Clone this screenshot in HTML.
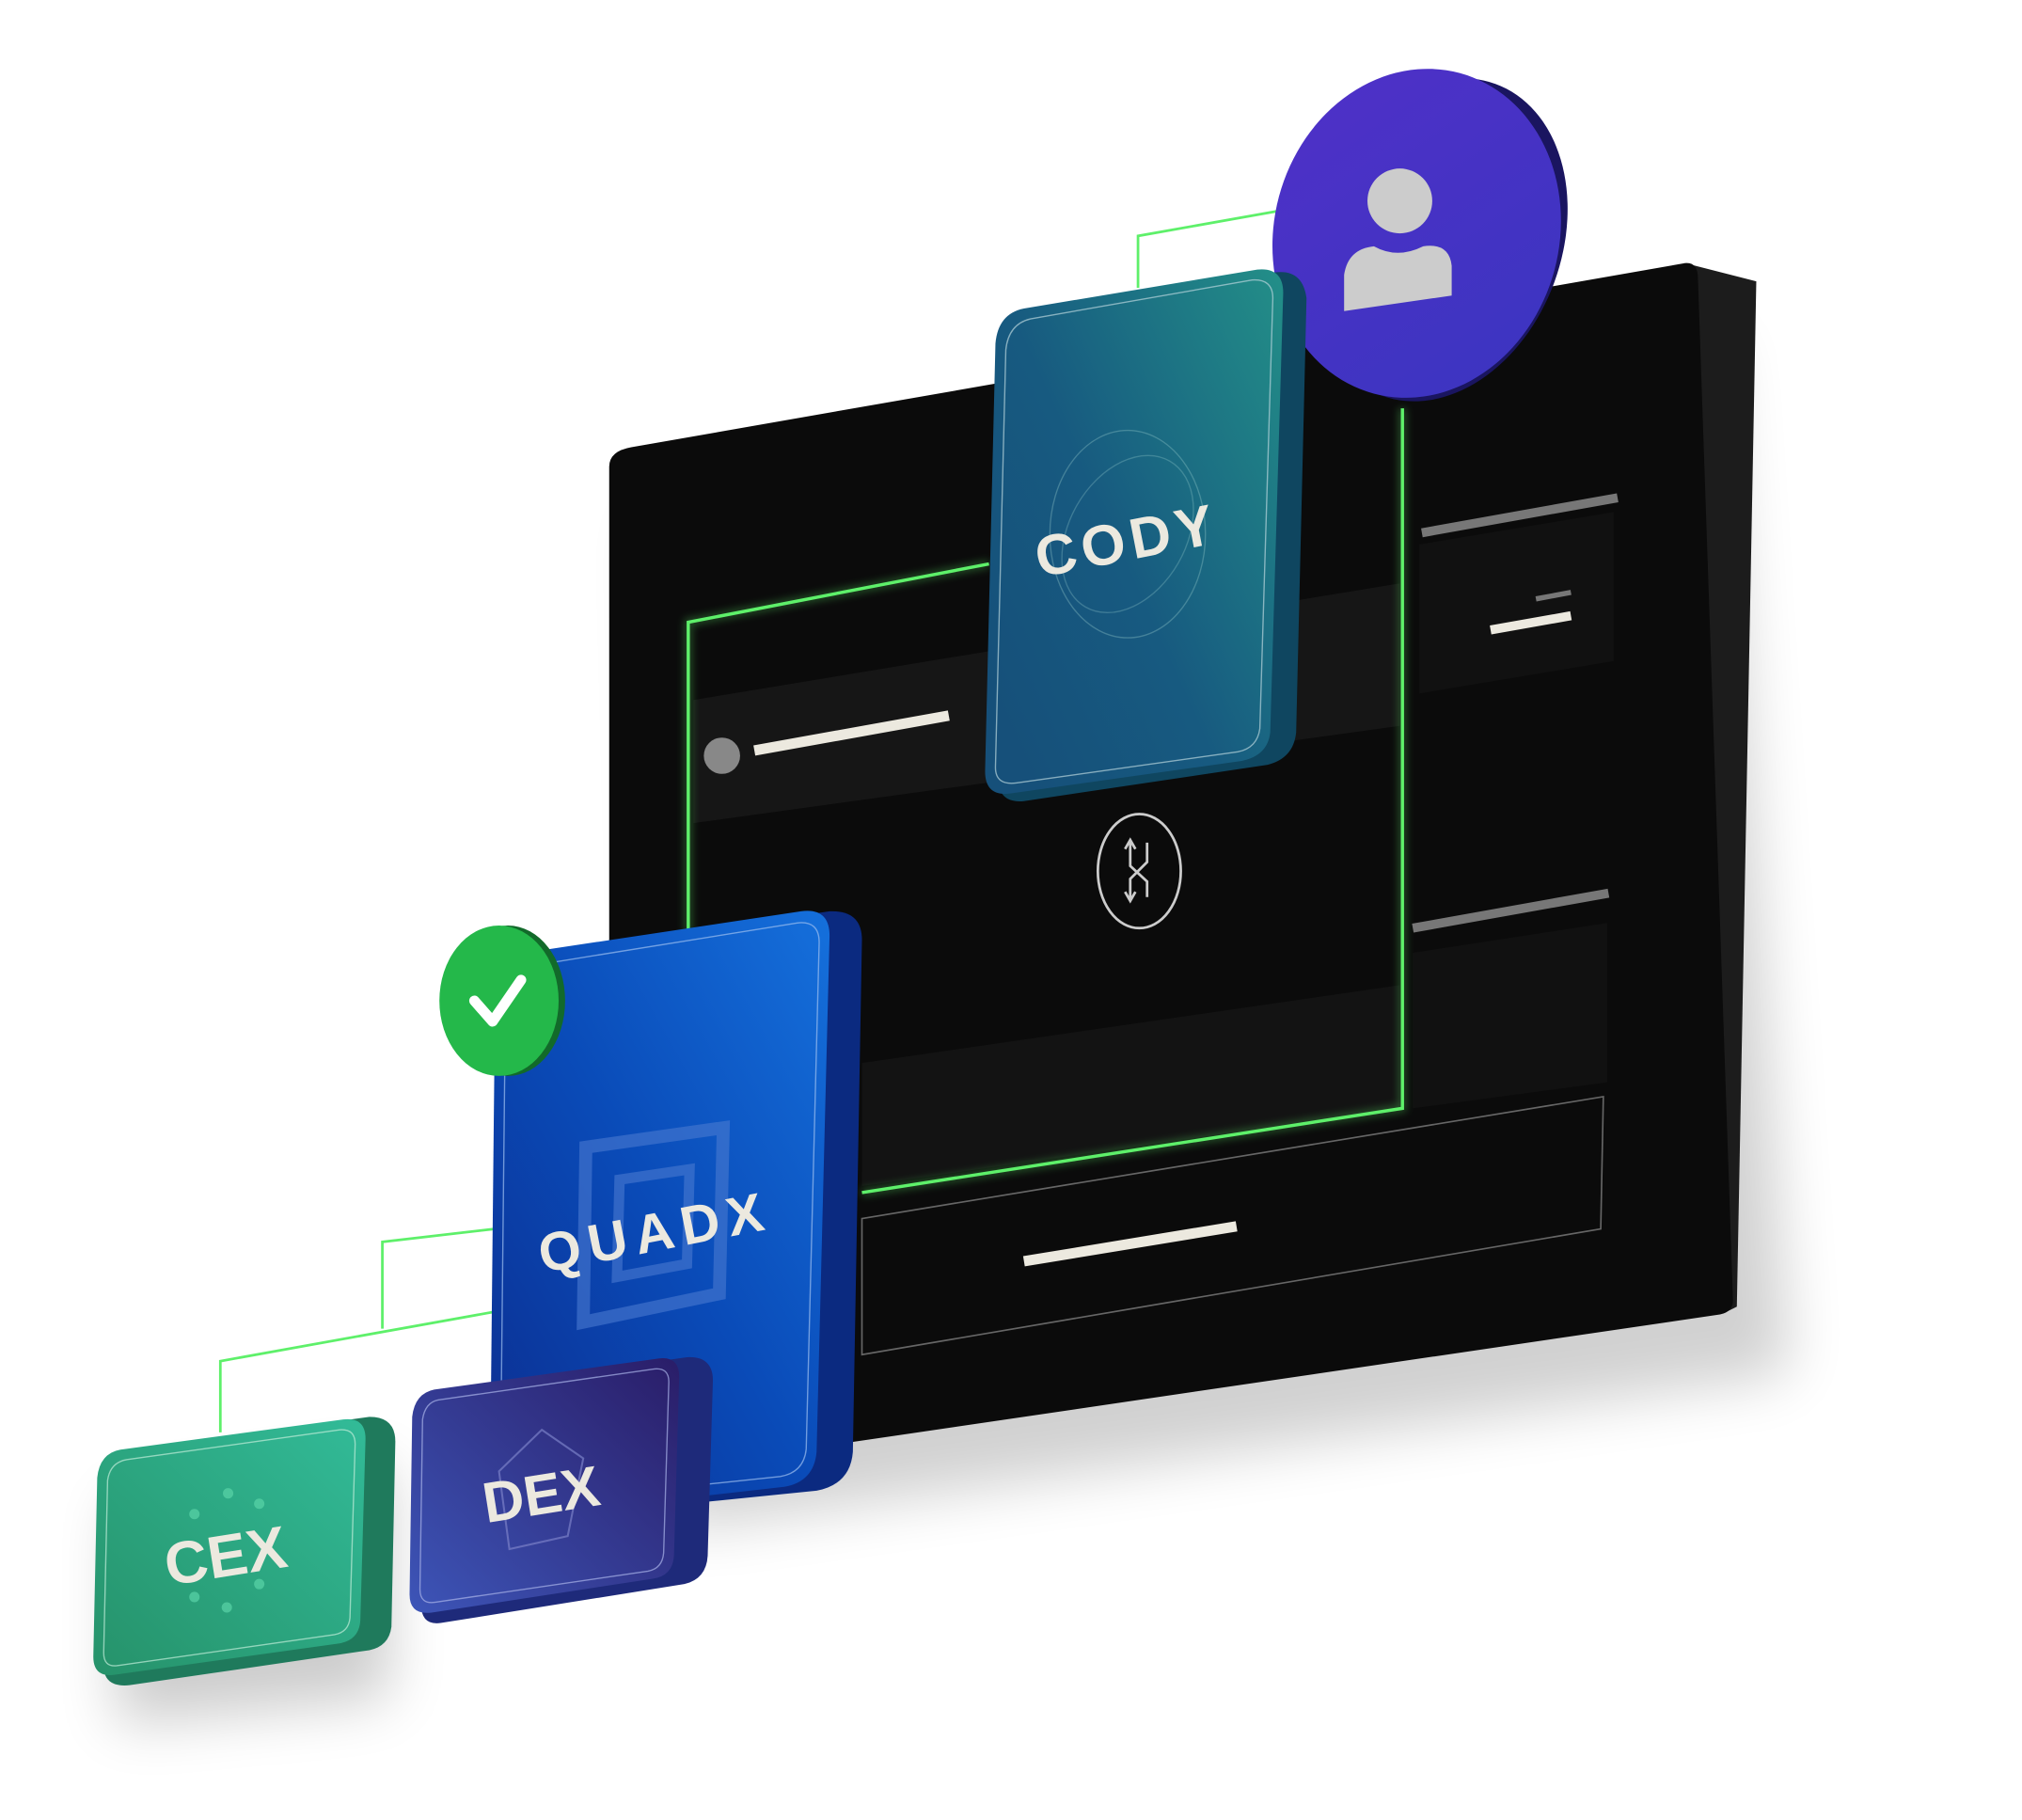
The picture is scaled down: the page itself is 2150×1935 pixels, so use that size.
<!DOCTYPE html>
<html><head><meta charset="utf-8"><style>
html,body{margin:0;padding:0;background:#fff;width:2150px;height:1935px;overflow:hidden}
svg{display:block}
text{font-family:"Liberation Sans",sans-serif;font-weight:bold;fill:#ece9df}
</style></head><body>
<svg width="2150" height="1935" viewBox="0 0 1560 1404" xmlns="http://www.w3.org/2000/svg">
<defs>
<filter id="sh" x="-20%" y="-20%" width="150%" height="150%"><feGaussianBlur stdDeviation="22"/></filter>
<filter id="glow" x="-10%" y="-10%" width="120%" height="120%"><feGaussianBlur stdDeviation="3"/></filter>
<linearGradient id="cody" x1="1" y1="0" x2="0" y2="0.8"><stop offset="0" stop-color="#238f88"/><stop offset="0.6" stop-color="#175a80"/><stop offset="1" stop-color="#16507a"/></linearGradient>
<linearGradient id="quad" x1="1" y1="0" x2="0" y2="1"><stop offset="0" stop-color="#1570dc"/><stop offset="0.5" stop-color="#0a4bb8"/><stop offset="1" stop-color="#0c2d8f"/></linearGradient>
<linearGradient id="dex" x1="1" y1="0" x2="0" y2="1"><stop offset="0" stop-color="#2a1d68"/><stop offset="1" stop-color="#3d55b8"/></linearGradient>
<linearGradient id="cex" x1="1" y1="0" x2="0" y2="1"><stop offset="0" stop-color="#32bb98"/><stop offset="1" stop-color="#26926a"/></linearGradient>
<linearGradient id="pur" x1="0" y1="0" x2="1" y2="1"><stop offset="0" stop-color="#5030c8"/><stop offset="1" stop-color="#3a35c0"/></linearGradient>
</defs>
<!-- shadows -->
<polygon points="500,400 1330,260 1380,1060 520,1180" fill="#000" opacity="0.18" filter="url(#sh)"/>
<polygon points="90,1160 300,1130 300,1310 90,1330" fill="#000" opacity="0.2" filter="url(#sh)"/>
<!-- connectors top -->
<polyline points="878,222 878,182 985,163" fill="none" stroke="#5ef06a" stroke-width="2"/>
<!-- big panel -->
<polygon points="1300,203 1355,217 1340,1008 1330,1013" fill="#1c1c1c"/>
<path d="M487,345 L1300,203 Q1310,202 1310,215 L1337,1003 Q1337,1012 1327,1014 L470,1140 L470,360 Q470,348 487,345 Z" fill="#0b0b0b"/>
<!-- inner strips -->
<polygon points="535,540 1080,450 1080,560 535,635" fill="#161616"/>
<polygon points="665,820 1080,760 1080,855 665,915" fill="#131313"/>
<polygon points="1095,420 1245,395 1245,510 1095,535" fill="#111"/>
<polygon points="1090,735 1240,712 1240,835 1090,855" fill="#111"/>
<!-- green frame -->
<g stroke="#5ef06a" stroke-width="2.5" fill="none">
<polyline points="531,720 531,480 763,435" />
<polyline points="1082,315 1082,855 665,920"/>
</g>
<g stroke="#5ef06a" stroke-width="6" fill="none" opacity="0.3" filter="url(#glow)">
<polyline points="531,720 531,480 763,435" /><polyline points="1082,315 1082,855 665,920"/>
</g>
<!-- bottom outline -->
<polygon points="665,940 1237,846 1235,948 665,1045" fill="none" stroke="#666" stroke-width="1.2"/>
<line x1="790" y1="973" x2="954" y2="946" stroke="#ece9df" stroke-width="8"/>
<!-- right lines -->
<line x1="1097" y1="411" x2="1248" y2="384" stroke="#777" stroke-width="7"/>
<line x1="1150" y1="486" x2="1212" y2="475" stroke="#ece9df" stroke-width="7"/>
<line x1="1185" y1="462" x2="1212" y2="457" stroke="#777" stroke-width="4"/>
<line x1="1090" y1="716" x2="1241" y2="689" stroke="#777" stroke-width="7"/>
<circle cx="557" cy="583" r="14" fill="#888"/>
<line x1="582" y1="579" x2="732" y2="552" stroke="#ece9df" stroke-width="8"/>
<!-- swap icon -->
<ellipse cx="879" cy="672" rx="32" ry="44" fill="none" stroke="#ccc" stroke-width="2"/>
<path d="M872,650 L872,668 L885,680 L885,692 M885,650 L885,665 L872,678 L872,695 M868,655 L872,648 L876,655 M868,688 L872,695 L876,688" fill="none" stroke="#ccc" stroke-width="2"/>
<!-- purple circle -->
<ellipse cx="1110" cy="185" rx="95" ry="128" fill="#1a1560" transform="rotate(20 1110 185)"/>
<ellipse cx="1093" cy="180" rx="110" ry="128" fill="url(#pur)" transform="rotate(15 1093 180)"/>
<circle cx="1080" cy="155" r="25" fill="#ccc"/>
<path d="M1037,240 L1037,212 Q1040,192 1060,190 Q1078,200 1098,190 Q1118,187 1120,205 L1120,228 Z" fill="#ccc"/>
<!-- CODY card -->
<path d="M780,245 L985,210 Q1005,208 1008,230 L1000,565 Q998,585 978,590 L790,618 Q770,620 770,600 L772,270 Q774,248 780,245 Z" fill="#0f4660"/>
<path d="M790,238 L970,208 Q990,206 990,226 L980,565 Q978,583 958,587 L780,612 Q760,615 760,595 L768,265 Q770,242 790,238 Z" fill="url(#cody)"/>
<path d="M795,246 L966,216 Q982,215 982,230 L972,562 Q970,577 955,580 L784,604 Q768,606 768,592 L776,270 Q778,250 795,246 Z" fill="none" stroke="#b8d4dc" stroke-width="1" opacity="0.7"/>
<ellipse cx="870" cy="412" rx="60" ry="80" fill="none" stroke="#9cc" stroke-width="1" opacity="0.35"/>
<ellipse cx="870" cy="412" rx="45" ry="65" fill="none" stroke="#9cc" stroke-width="1" opacity="0.3" transform="rotate(30 870 412)"/>
<text x="870" y="432" font-size="44" text-anchor="middle" letter-spacing="4" transform="rotate(-11 870 420)">CODY</text>
<!-- connectors bottom -->
<polyline points="170,1105 170,1050 420,1005 420,1062" fill="none" stroke="#5ef06a" stroke-width="2"/>
<polyline points="295,1025 295,958 382,948" fill="none" stroke="#5ef06a" stroke-width="2"/>
<!-- QUADX card -->
<path d="M400,738 L640,703 Q665,702 665,725 L658,1120 Q656,1145 630,1150 L410,1172 Q388,1174 388,1150 L392,765 Q394,742 400,738 Z" fill="#0b2a80"/>
<path d="M405,735 L618,703 Q640,700 640,722 L630,1120 Q628,1143 605,1147 L400,1170 Q378,1172 378,1150 L382,765 Q384,740 405,735 Z" fill="url(#quad)"/>
<path d="M410,745 L615,712 Q632,710 632,727 L622,1118 Q620,1136 602,1139 L402,1160 Q386,1162 386,1146 L390,770 Q392,749 410,745 Z" fill="none" stroke="#9dbff0" stroke-width="1" opacity="0.7"/>
<polygon points="452,885 558,870 555,998 450,1020" fill="none" stroke="#4a7ad0" stroke-width="10" opacity="0.6"/>
<polygon points="478,910 532,902 530,975 476,985" fill="none" stroke="#4a7ad0" stroke-width="8" opacity="0.6"/>
<text x="505" y="965" font-size="42" text-anchor="middle" letter-spacing="6" transform="rotate(-11 505 950)">QUADX</text>
<!-- check -->
<ellipse cx="392" cy="772" rx="44" ry="58" fill="#126a2a"/>
<ellipse cx="385" cy="772" rx="46" ry="58" fill="#24b84a"/>
<path d="M366,772 L380,788 L402,756" fill="none" stroke="#fff" stroke-width="8" stroke-linecap="round" stroke-linejoin="round"/>
<!-- DEX card -->
<path d="M330,1075 L530,1047 Q550,1046 550,1065 L546,1200 Q545,1218 528,1222 L340,1252 Q325,1254 325,1238 L328,1095 Z" fill="#1e2a7a"/>
<path d="M335,1072 L508,1048 Q524,1046 524,1062 L520,1200 Q519,1216 503,1218 L333,1244 Q316,1246 316,1230 L318,1093 Q320,1075 335,1072 Z" fill="url(#dex)"/>
<path d="M338,1080 L505,1056 Q516,1055 516,1066 L512,1198 Q511,1210 500,1212 L336,1236 Q324,1238 324,1226 L326,1095 Q328,1082 338,1080 Z" fill="none" stroke="#aab4e8" stroke-width="1" opacity="0.7"/>
<polygon points="418,1103 450,1125 438,1185 393,1195 385,1135" fill="none" stroke="#7a80c8" stroke-width="1.5" opacity="0.7"/>
<text x="417" y="1168" font-size="44" text-anchor="middle" transform="rotate(-9 417 1150)">DEX</text>
<!-- CEX card -->
<path d="M90,1120 L285,1093 Q305,1093 305,1112 L302,1255 Q300,1270 285,1273 L100,1300 Q80,1302 80,1285 L82,1140 Z" fill="#1f7a5c"/>
<path d="M95,1118 L265,1095 Q282,1093 282,1110 L278,1250 Q277,1266 260,1268 L88,1292 Q72,1294 72,1278 L75,1140 Q77,1120 95,1118 Z" fill="url(#cex)"/>
<path d="M98,1126 L262,1103 Q274,1102 274,1114 L270,1248 Q269,1259 258,1261 L90,1285 Q80,1286 80,1275 L83,1142 Q85,1128 98,1126 Z" fill="none" stroke="#c0ecd8" stroke-width="1" opacity="0.7"/>
<g fill="#5ad4a8" opacity="0.7"><circle cx="150" cy="1168" r="4"/><circle cx="176" cy="1152" r="4"/><circle cx="200" cy="1160" r="4"/><circle cx="150" cy="1232" r="4"/><circle cx="175" cy="1240" r="4"/><circle cx="200" cy="1222" r="4"/></g>
<text x="174" y="1216" font-size="46" text-anchor="middle" transform="rotate(-9 174 1200)">CEX</text>
</svg>
</body></html>
